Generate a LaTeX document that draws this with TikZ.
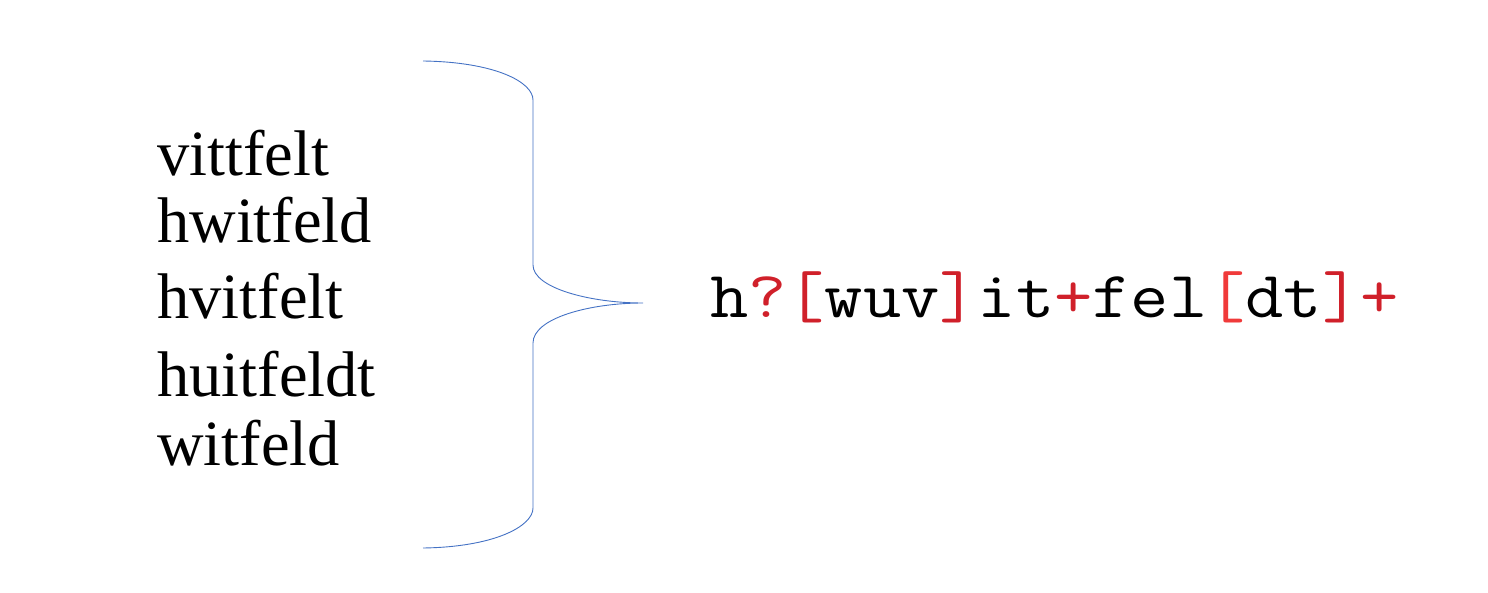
\documentclass[tikz,border=0pt]{standalone}
\usepackage{fontspec}
\usepackage{graphicx}
\setmainfont{Liberation Serif}
\definecolor{braceblue}{HTML}{4472C4}
\definecolor{rxred}{HTML}{D0202A}
\definecolor{rxlight}{HTML}{F03A3A}
\begin{document}
\begin{tikzpicture}[x=1pt,y=-1pt,
  word/.style={anchor=base west,inner sep=0pt,font=\fontsize{64.5}{70}\selectfont},
  rx/.style={anchor=base west,inner sep=0pt,font=\ttfamily\fontsize{66}{70}\selectfont},
  bracestyle/.style={draw=braceblue,line width=0.9pt}]
\useasboundingbox (0,0) rectangle (1488,593);
\node[word] (w1) at (157,176) {vittfelt};
\node[word] (w2) at (157,243) {hwitfeld};
\node[word] (w3) at (157,319) {hvitfelt};
\node[word] (w4) at (157,396) {huitfeldt};
\node[word] (w5) at (157,465) {witfeld};
\coordinate (btop) at (423,61);
\coordinate (bbot) at (423,548);
\coordinate (btip) at (643,303);
\draw[bracestyle] (btop) .. controls (495,62) and (533,82) .. (533,100)
  -- (533,265) .. controls (533,288) and (590,303) .. (btip)
  .. controls (590,303) and (533,318) .. (533,343)
  -- (533,508) .. controls (533,526) and (495,547) .. (bbot);
\node[rx] (re) at (710,318) {\scalebox{1.125}[1]{h\textcolor{rxred}{?[}wuv\textcolor{rxred}{]}it\textcolor{rxred}{+}fel\textcolor{rxlight}{[}dt\textcolor{rxred}{]+}}};
\end{tikzpicture}
\end{document}
